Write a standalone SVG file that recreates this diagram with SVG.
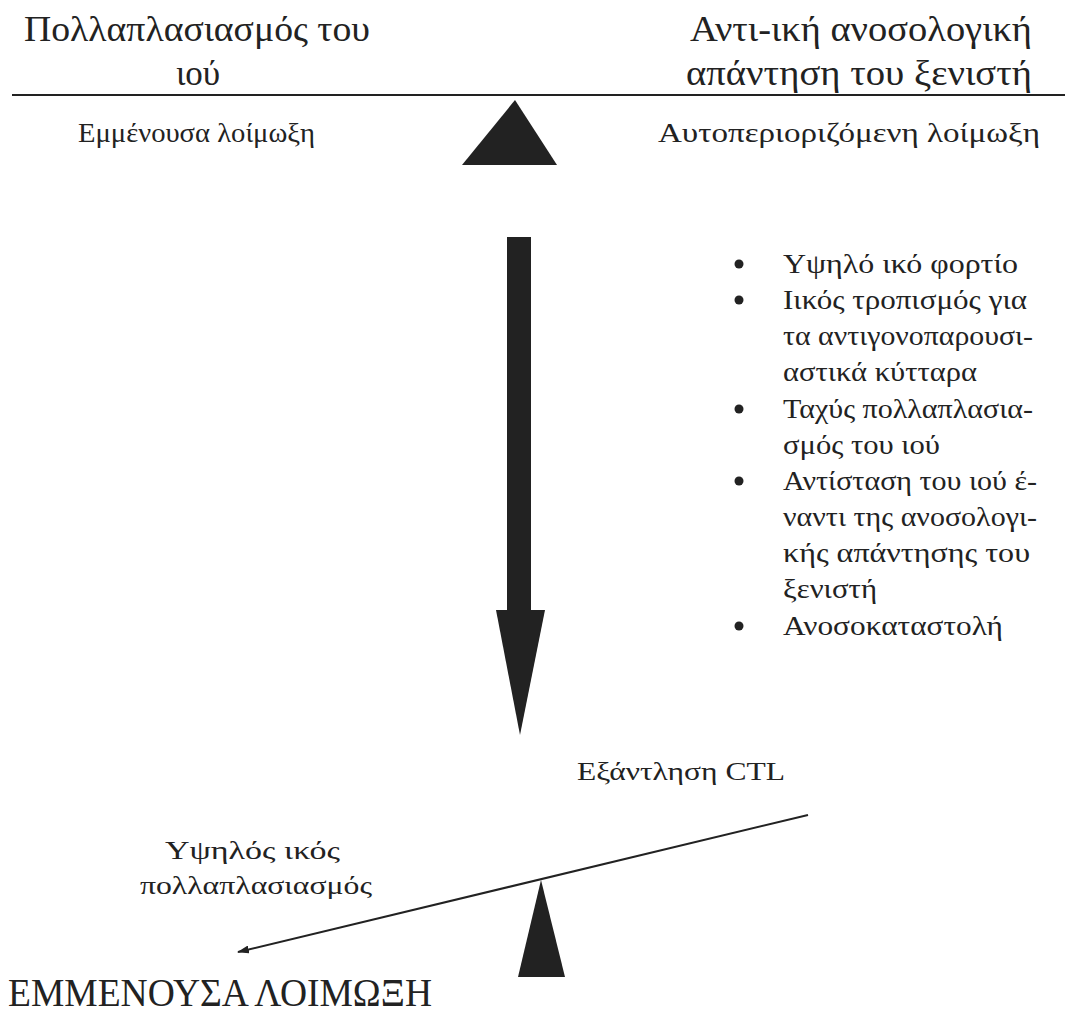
<svg xmlns="http://www.w3.org/2000/svg" width="1065" height="1016" viewBox="0 0 1065 1016">
<style>
text{font-family:"Liberation Serif","Times New Roman",serif;fill:#222}
.t{font-size:35px}
.m{font-size:28px}
.b{font-size:28px}
.s{font-size:26px}
.big{font-size:39px}
.shape{fill:#222}
</style>
<defs>
<marker id="ah" markerWidth="12" markerHeight="8" refX="11" refY="4" orient="auto" markerUnits="userSpaceOnUse">
<path d="M0,0 L12,4 L0,8 Z" fill="#222"/>
</marker>
</defs>
<rect width="1065" height="1016" fill="#fff"/>
<g id="title-left">
<text class="t" x="24" y="41" textLength="346" lengthAdjust="spacingAndGlyphs">Πολλαπλασιασμός του</text>
<text class="t" x="198" y="85" text-anchor="middle">ιού</text>
</g>
<g id="title-right">
<text class="t" x="690" y="41" textLength="342" lengthAdjust="spacingAndGlyphs">Αντι-ική ανοσολογική</text>
<text class="t" x="686" y="85" textLength="346" lengthAdjust="spacingAndGlyphs">απάντηση του ξενιστή</text>
</g>
<g id="divider">
<line x1="12" y1="95" x2="1065" y2="95" stroke="#222" stroke-width="2"/>
</g>
<g id="top-triangle">
<polygon class="shape" points="515,100 557,165 462,165"/>
</g>
<g id="persistent-label">
<text class="m" x="78" y="142" textLength="237" lengthAdjust="spacingAndGlyphs">Εμμένουσα λοίμωξη</text>
</g>
<g id="selflimiting-label">
<text class="m" x="658" y="142" textLength="382" lengthAdjust="spacingAndGlyphs">Αυτοπεριοριζόμενη λοίμωξη</text>
</g>
<g id="down-arrow">
<rect class="shape" x="507" y="237" width="24" height="373"/>
<polygon class="shape" points="496,610 545,610 520,735"/>
</g>
<g id="factors">
<circle class="shape" cx="739" cy="264" r="4.5"/>
<circle class="shape" cx="739" cy="300" r="4.5"/>
<circle class="shape" cx="739" cy="409" r="4.5"/>
<circle class="shape" cx="739" cy="481" r="4.5"/>
<circle class="shape" cx="739" cy="626" r="4.5"/>
<text class="b" x="783" y="273" textLength="235" lengthAdjust="spacingAndGlyphs">Υψηλό ικό φορτίο</text>
<text class="b" x="783" y="309" textLength="244" lengthAdjust="spacingAndGlyphs">Ιικός τροπισμός για</text>
<text class="b" x="783" y="345" textLength="250" lengthAdjust="spacingAndGlyphs">τα αντιγονοπαρουσι-</text>
<text class="b" x="783" y="381" textLength="194" lengthAdjust="spacingAndGlyphs">αστικά κύτταρα</text>
<text class="b" x="783" y="418" textLength="250" lengthAdjust="spacingAndGlyphs">Ταχύς πολλαπλασια-</text>
<text class="b" x="783" y="454" textLength="157" lengthAdjust="spacingAndGlyphs">σμός του ιού</text>
<text class="b" x="783" y="490" textLength="254" lengthAdjust="spacingAndGlyphs">Αντίσταση του ιού έ-</text>
<text class="b" x="783" y="526" textLength="254" lengthAdjust="spacingAndGlyphs">ναντι της ανοσολογι-</text>
<text class="b" x="783" y="562" textLength="247" lengthAdjust="spacingAndGlyphs">κής απάντησης του</text>
<text class="b" x="783" y="598" textLength="94" lengthAdjust="spacingAndGlyphs">ξενιστή</text>
<text class="b" x="783" y="635" textLength="220" lengthAdjust="spacingAndGlyphs">Ανοσοκαταστολή</text>
</g>
<g id="ctl-label">
<text class="s" x="577" y="780" textLength="208" lengthAdjust="spacingAndGlyphs">Εξάντληση CTL</text>
</g>
<g id="replication-label">
<text class="s" x="165" y="859" textLength="175" lengthAdjust="spacingAndGlyphs">Υψηλός ικός</text>
<text class="s" x="140" y="894" textLength="232" lengthAdjust="spacingAndGlyphs">πολλαπλασιασμός</text>
</g>
<g id="fulcrum">
<polygon class="shape" points="541,880 565,977 518,977"/>
</g>
<g id="connectors">
<line x1="808" y1="815" x2="238" y2="952" stroke="#222" stroke-width="2" marker-end="url(#ah)"/>
</g>
<g id="outcome">
<text class="big" x="8" y="1006" textLength="424" lengthAdjust="spacingAndGlyphs">ΕΜΜΕΝΟΥΣΑ ΛΟΙΜΩΞΗ</text>
</g>
</svg>
